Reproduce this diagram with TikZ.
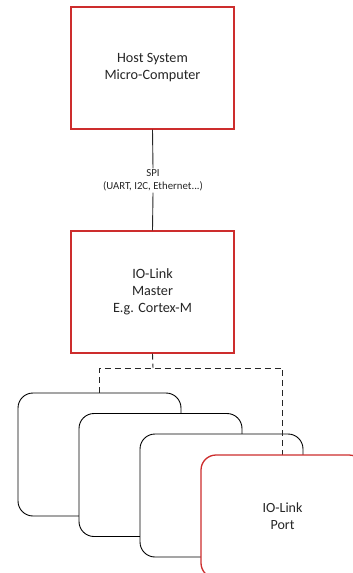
\documentclass[tikz,border=0pt]{standalone}
\usepackage{fontspec}
\setmainfont{Carlito}
\definecolor{boxred}{RGB}{205,45,45}
\definecolor{txt}{RGB}{38,38,38}
\begin{document}
\begin{tikzpicture}[x=1pt,y=-1pt,
  redbox/.style={draw=boxred,line width=1.3pt,fill=white,minimum width=163pt,minimum height=122pt,inner sep=0pt,align=center,text=txt,font=\fontsize{14.2pt}{17pt}\selectfont},
  card/.style={draw=black,line width=0.9pt,fill=white,rounded corners=15pt,minimum width=163pt,minimum height=123pt,inner sep=0pt,align=center,text=txt,font=\fontsize{14pt}{17pt}\selectfont},
  redcard/.style={card,draw=boxred,line width=1.3pt},
  conn/.style={draw=black!85,line width=0.9pt},
  dashconn/.style={conn,dash pattern=on 6pt off 4pt},
  lbl/.style={align=center,text=txt,inner sep=1pt,font=\fontsize{10.8pt}{13.3pt}\selectfont}
]
\useasboundingbox (0,0) rectangle (353,573);
\clip (0,0) rectangle (353,573);
\node[redbox] (host) at (152.5,68) {Host System\\Micro-Computer};
\node[redbox] (master) at (152.5,292) {IO-Link\\Master\\E.g. Cortex-M};
\node[lbl] (spi) at (153,180.5) {SPI\\(UART, I2C, Ethernet...)};
\draw[conn] (host.south) -- (spi.north);
\draw[conn] (spi.south) -- (master.north);
\node[card] (card1) at (99.5,454.5) {};
\node[card] (card2) at (160.5,475) {};
\node[card] (card3) at (221.5,495.5) {};
\coordinate (split) at (153,368);
\draw[dashconn] (master.south) -- (split);
\draw[dashconn] (card1.north) |- (split) -| (282.5,455) coordinate (rend);
\node[redcard] (card4) at (282.5,516.5) {IO-Link\\Port};
\end{tikzpicture}
\end{document}
